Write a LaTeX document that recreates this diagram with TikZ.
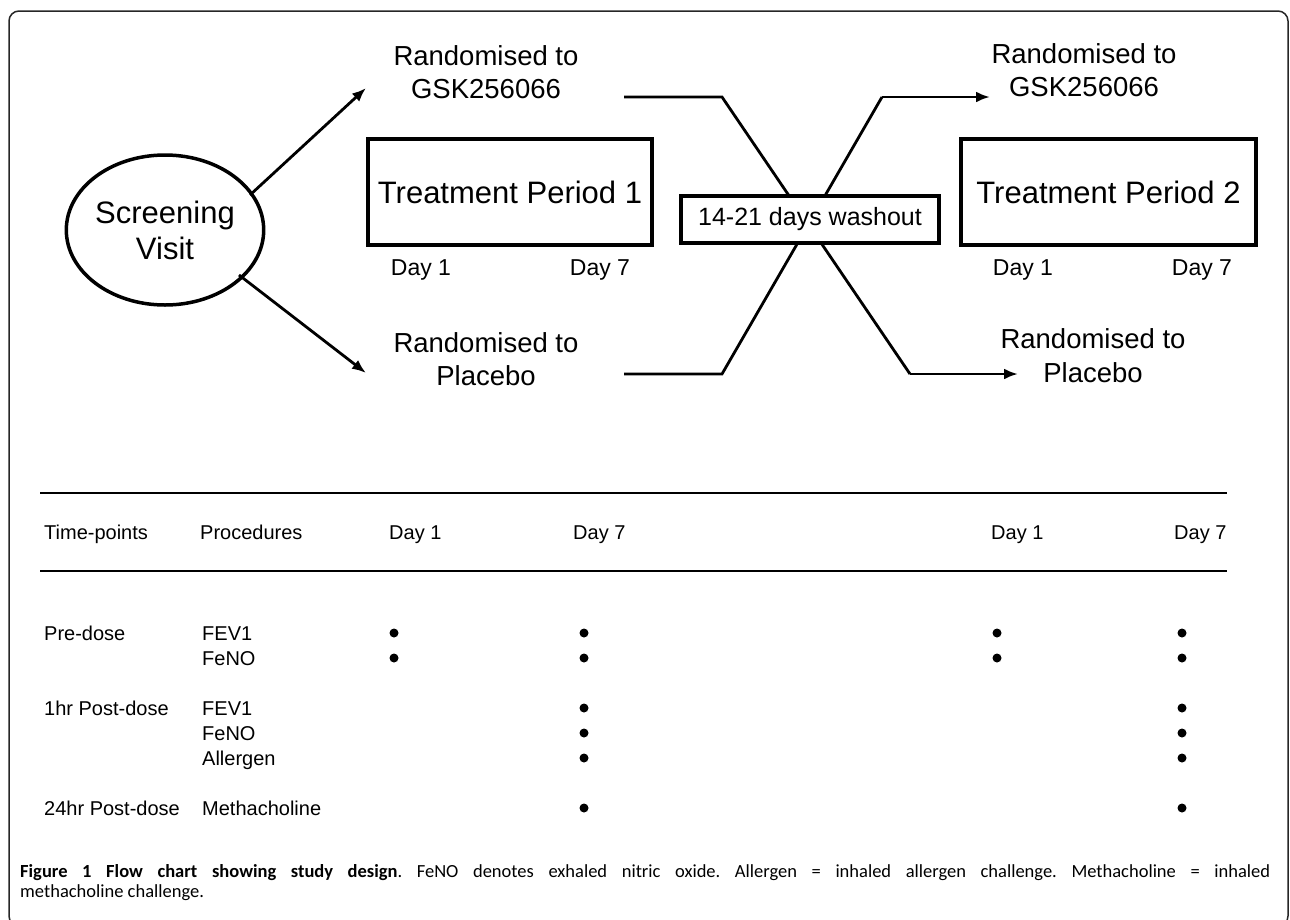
\documentclass[tikz,border=0pt]{standalone}
\usepackage{fontspec}
\setmainfont{Liberation Sans}
\newfontfamily\capfont{Carlito}
\usetikzlibrary{shapes.geometric,arrows.meta}
\begin{document}
\frenchspacing
\begin{tikzpicture}[x=1pt,y=-1pt,
  rnd/.style={anchor=base,inner sep=0pt,font=\fontsize{27.5}{33}\selectfont},
  daylbl/.style={anchor=base,inner sep=0pt,font=\fontsize{23}{27}\selectfont},
  tbox/.style={draw,line width=3.5pt,inner sep=0pt,font=\fontsize{31}{36}\selectfont},
  wbox/.style={draw,fill=white,line width=3.5pt,inner sep=0pt,font=\fontsize{25}{30}\selectfont},
  arr/.style={line width=2.8pt,-{Latex[length=14pt,width=11pt]}},
  xline/.style={line width=2.8pt},
  tline/.style={line width=1.5pt},
  tab/.style={anchor=base west,inner sep=0pt,font=\fontsize{20}{24}\selectfont},
  capt/.style={anchor=base west,inner sep=0pt,font=\capfont\fontsize{18.5}{21}\selectfont},
  dotm/.style={fill=black}]
\useasboundingbox (0,0) rectangle (1290,919);
\clip (0,0) rectangle (1290,919);
% frame
\draw[line width=1.5pt,rounded corners=10pt,black!85] (9,11) rectangle (1288,926);

% screening visit
\node[ellipse,draw,line width=3.5pt,minimum width=170pt,minimum height=150pt,inner sep=0pt,
      align=center,font=\fontsize{31}{36}\selectfont] (scr) at (165,230) {\raisebox{-3pt}{Screening}\\\raisebox{-3pt}{Visit}};

% randomised labels
\node[rnd] (g1a) at (486,65) {Randomised to};
\node[rnd] (g1b) at (486,98) {GSK256066};
\node[rnd] (p1a) at (486,352) {Randomised to};
\node[rnd] (p1b) at (486,385) {Placebo};
\node[rnd] (g2a) at (1084,63) {Randomised to};
\node[rnd] (g2b) at (1084,96) {GSK256066};
\node[rnd] (p2a) at (1093,348) {Randomised to};
\node[rnd] (p2b) at (1093,382) {Placebo};

% arrows from screening
\coordinate (a1s) at (250,195);
\coordinate (a1e) at (366,88);
\coordinate (a2s) at (239,275);
\coordinate (a2e) at (366,373);
\draw[arr] (a1s) -- (a1e);
\draw[arr] (a2s) -- (a2e);

% treatment boxes
\node[tbox,minimum width=284pt,minimum height=106pt] (tp1) at (510,192) {Treatment Period 1};
\node[tbox,minimum width=295pt,minimum height=106pt] (tp2) at (1108.5,192) {Treatment Period 2};
\node[daylbl] (d11) at (421,275) {Day 1};
\node[daylbl] (d17) at (600,275) {Day 7};
\node[daylbl] (d21) at (1023,275) {Day 1};
\node[daylbl] (d27) at (1202,275) {Day 7};

% crossing lines
\coordinate (xa0) at (624,97);
\coordinate (xa1) at (722,97);
\coordinate (xa2) at (910,374);
\coordinate (xa3) at (1018,374);
\coordinate (xb0) at (624,374);
\coordinate (xb1) at (722,374);
\coordinate (xb2) at (882,97);
\coordinate (xb3) at (990,97);
\draw[xline] (xa0) -- (xa1) -- (xa2);
\draw[arr] (xa2) -- (xa3);
\draw[xline] (xb0) -- (xb1) -- (xb2);
\draw[arr] (xb2) -- (xb3);

% washout box
\node[wbox,minimum width=258pt,minimum height=47pt] (wash) at (810,219.5) {14-21 days washout};

% table
\draw[tline] (40,493) -- (1227,493);
\draw[tline] (40,571) -- (1227,571);
\node[tab] (h1) at (44,539) {Time-points};
\node[tab] (h2) at (200,539) {Procedures};
\node[tab] (h3) at (389,539) {Day 1};
\node[tab] (h4) at (573,539) {Day 7};
\node[tab] (h5) at (991,539) {Day 1};
\node[tab] (h6) at (1174,539) {Day 7};

\node[tab] (r1) at (44,640) {Pre-dose};
\node[tab] (r1a) at (202,640) {FEV1};
\node[tab] (r1b) at (202,665) {FeNO};
\node[tab] (r2) at (44,715) {1hr Post-dose};
\node[tab] (r2a) at (202,715) {FEV1};
\node[tab] (r2b) at (202,740) {FeNO};
\node[tab] (r2c) at (202,765) {Allergen};
\node[tab] (r3) at (44,815) {24hr Post-dose};
\node[tab] (r3a) at (202,815) {Methacholine};

% dots
\foreach \y in {633,658} {
  \fill[dotm] (394,\y) circle (4.5);
  \fill[dotm] (997,\y) circle (4.5);
}
\foreach \y in {633,658,708,733,758,808} {
  \fill[dotm] (584,\y) circle (4.5);
  \fill[dotm] (1182,\y) circle (4.5);
}

% caption
\node[capt] (cap1) at (20,877)
  {\makebox[1250pt][s]{\textbf{Figure 1 Flow chart showing study design}. FeNO denotes exhaled nitric oxide. Allergen = inhaled allergen challenge. Methacholine = inhaled}};
\node[capt] (cap2) at (20,897)
  {methacholine challenge.};
\end{tikzpicture}
\end{document}
